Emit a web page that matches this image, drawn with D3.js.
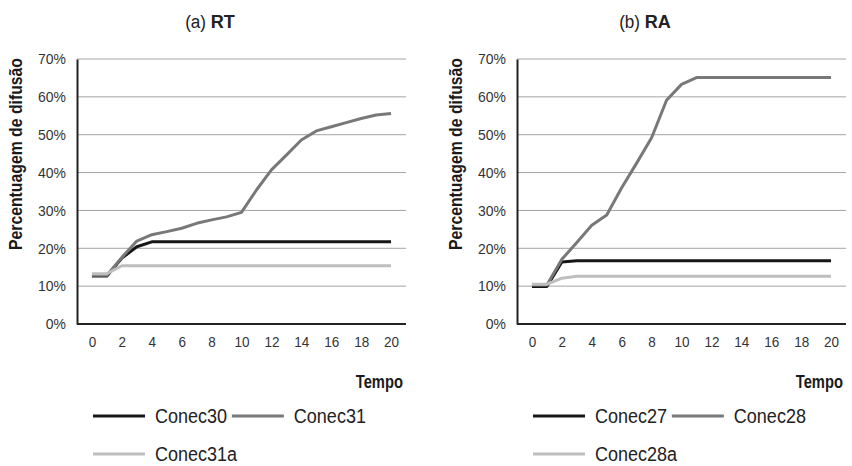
<!DOCTYPE html>
<html><head><meta charset="utf-8">
<script src="https://cdn.jsdelivr.net/npm/d3@7"></script>
<style>
html,body{margin:0;padding:0;background:#fff;}
svg{display:block;}
</style></head>
<body>
<svg id="chart" width="852" height="466"></svg>
<script>
const steps = d3.range(0, 21);
const xTicks = [0,2,4,6,8,10,12,14,16,18,20];
const yTicks = [0,10,20,30,40,50,60,70];

const rtConec30  = [12.7,12.7,17.4,20.4,21.7,21.7,21.7,21.7,21.7,21.7,21.7,21.7,21.7,21.7,21.7,21.7,21.7,21.7,21.7,21.7,21.7];
const rtConec31  = [12.9,12.9,17.6,21.9,23.6,24.4,25.3,26.6,27.5,28.3,29.5,35.4,40.7,44.6,48.6,51.0,52.1,53.2,54.3,55.2,55.6];
const rtConec31a = [13.3,13.3,15.4,15.4,15.4,15.4,15.4,15.4,15.4,15.4,15.4,15.4,15.4,15.4,15.4,15.4,15.4,15.4,15.4,15.4,15.4];

const raConec27  = [9.9,9.9,16.4,16.7,16.7,16.7,16.7,16.7,16.7,16.7,16.7,16.7,16.7,16.7,16.7,16.7,16.7,16.7,16.7,16.7,16.7];
const raConec28  = [10.3,10.3,17.1,21.5,26.1,28.8,36.0,42.5,49.2,59.1,63.3,65.1,65.1,65.1,65.1,65.1,65.1,65.1,65.1,65.1,65.1];
const raConec28a = [10.5,10.5,12.1,12.6,12.6,12.6,12.6,12.6,12.6,12.6,12.6,12.6,12.6,12.6,12.6,12.6,12.6,12.6,12.6,12.6,12.6];

const panels = [
  {prefix:"(a) ", bold:"RT", left:77, titleX:210, series:[
    {name:"Conec30", values:rtConec30, color:"#161616"},
    {name:"Conec31", values:rtConec31, color:"#787878"},
    {name:"Conec31a", values:rtConec31a, color:"#bebebe"}]},
  {prefix:"(b) ", bold:"RA", left:517, titleX:645, series:[
    {name:"Conec27", values:raConec27, color:"#161616"},
    {name:"Conec28", values:raConec28, color:"#787878"},
    {name:"Conec28a", values:raConec28a, color:"#bebebe"}]}
];

const svg = d3.select("#chart");
const font = "'Liberation Sans',Arial,sans-serif";
const plotW = 329, plotTop = 59, plotBottom = 324;

function squeeze(sel, ratio, fixed) {
  sel.each(function() {
    const L = fixed || this.getComputedTextLength() * ratio;
    d3.select(this).attr("textLength", L).attr("lengthAdjust", "spacingAndGlyphs");
  });
}

panels.forEach(p => {
  const g = svg.append("g");
  const x = d3.scaleLinear().domain([-1, 21]).range([p.left, p.left + plotW]);
  const y = d3.scaleLinear().domain([0, 70]).range([plotBottom, plotTop]);

  g.append("g").selectAll("line").data(yTicks.filter(d => d > 0)).join("line")
    .attr("x1", p.left).attr("x2", p.left + plotW)
    .attr("y1", d => y(d)).attr("y2", d => y(d))
    .attr("stroke", "#a4a4a4").attr("stroke-width", 1);

  const ya = g.append("g").attr("transform", `translate(${p.left},0)`)
    .call(d3.axisLeft(y).tickValues(yTicks).tickFormat(d => d + "%").tickSize(0).tickPadding(11));
  ya.select(".domain").attr("stroke", "#222").attr("stroke-width", 2);
  ya.selectAll("text").attr("font-family", font).attr("font-size", 15).attr("fill", "#333");
  squeeze(ya.selectAll("text"), 0.93);

  const xa = g.append("g").attr("transform", `translate(0,${plotBottom})`)
    .call(d3.axisBottom(x).tickValues(xTicks).tickSize(0).tickPadding(12));
  xa.select(".domain").attr("stroke", "#222").attr("stroke-width", 2)
    .attr("d", `M${p.left},0H${p.left + plotW}`);
  xa.selectAll("text").attr("font-family", font).attr("font-size", 15).attr("fill", "#333");
  squeeze(xa.selectAll("text"), 0.9);

  const line = d3.line().x((d, i) => x(steps[i])).y(d => y(d));
  p.series.forEach(s => {
    g.append("path").datum(s.values).attr("d", line)
      .attr("fill", "none").attr("stroke", s.color).attr("stroke-width", 3)
      .attr("stroke-linejoin", "round");
  });

  const t = g.append("text").attr("x", p.titleX).attr("y", 28)
    .attr("text-anchor", "middle").attr("font-family", font).attr("font-size", 18).attr("fill", "#222");
  t.append("tspan").text(p.prefix);
  t.append("tspan").attr("font-weight", "bold").attr("font-size", 19).text(p.bold);
  squeeze(t, 0.95);

  const yl = g.append("text").attr("transform", `translate(${p.left - 55},154) rotate(-90)`)
    .attr("text-anchor", "middle").attr("font-family", font).attr("font-weight", "bold")
    .attr("font-size", 18).attr("fill", "#1a1a1a").text("Percentuagem de difusão");
  squeeze(yl, 1, 192);

  g.append("text").attr("transform", `translate(${p.left + plotW - 3},388) scale(0.82,1)`)
    .attr("text-anchor", "end").attr("font-family", font).attr("font-weight", "bold")
    .attr("font-size", 18).attr("fill", "#1a1a1a").text("Tempo");

  const rows = [[p.series[0], p.series[1]], [p.series[2]]];
  rows.forEach((row, ri) => {
    let cx = p.left + 16;
    const cy = 416 + ri * 38;
    row.forEach(s => {
      g.append("line").attr("x1", cx).attr("x2", cx + 52).attr("y1", cy).attr("y2", cy)
        .attr("stroke", s.color).attr("stroke-width", 3);
      const tx = g.append("text").attr("x", cx + 62).attr("y", cy + 7)
        .attr("font-family", font).attr("font-size", 20).attr("fill", "#222").text(s.name);
      squeeze(tx, 0.9);
      cx = cx + 62 + tx.node().getComputedTextLength() * 0.9 + 12;
    });
  });
});
</script>
</body></html>
